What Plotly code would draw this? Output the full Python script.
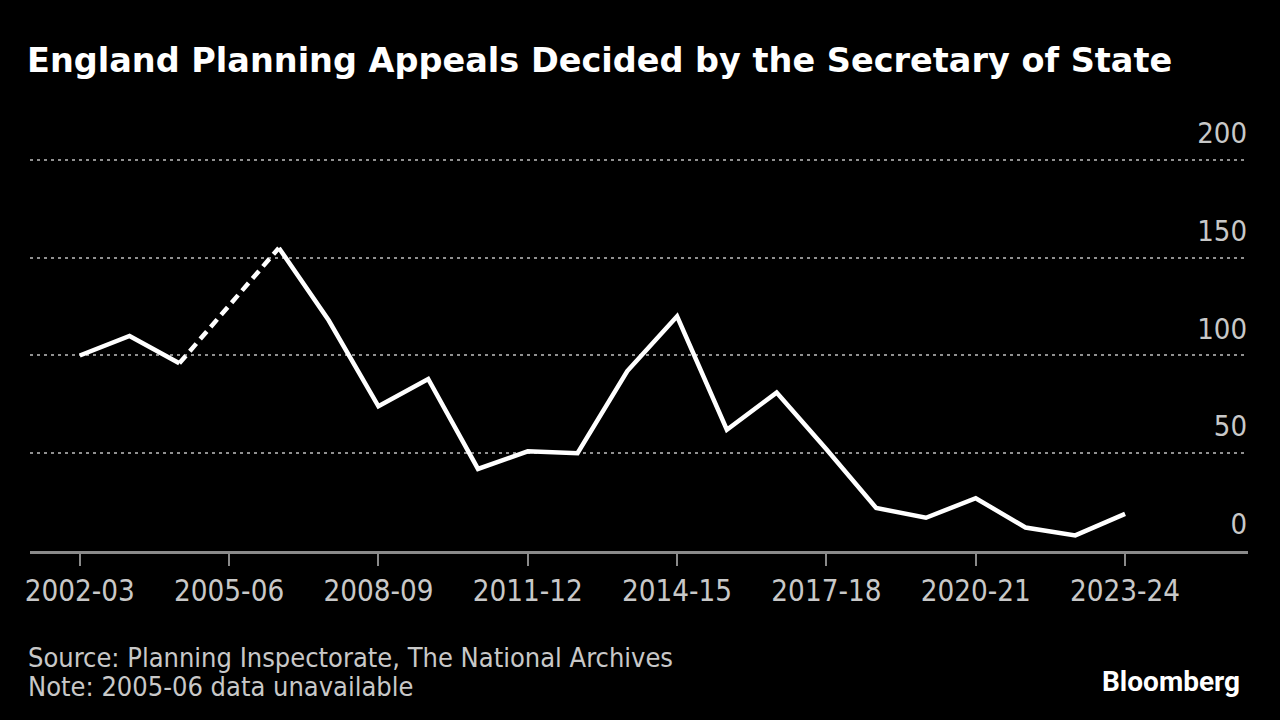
import plotly.graph_objects as go

years = ["2002-03", "2003-04", "2004-05", "2005-06", "2006-07", "2007-08", "2008-09",
         "2009-10", "2010-11", "2011-12", "2012-13", "2013-14", "2014-15", "2015-16",
         "2016-17", "2017-18", "2018-19", "2019-20", "2020-21", "2021-22", "2022-23",
         "2023-24"]
appeals = [100, 110, 96, None, 155, 118, 74, 88, 42, 51, 50, 92, 120, 62, 81, 52,
           22, 17, 27, 12, 8, 19]

title = "England Planning Appeals Decided by the Secretary of State"
source = "Source: Planning Inspectorate, The National Archives"
note = "Note: 2005-06 data unavailable"
brand = "Bloomberg"

# dashed bridge across the missing year
gap = years.index("2005-06")
bridge_x = [years[gap - 1], years[gap + 1]]
bridge_y = [appeals[gap - 1], appeals[gap + 1]]

FONT = "Liberation Sans Narrow, DejaVu Sans Condensed, Roboto Condensed, Arial Narrow, sans-serif"

L, R, T, B = 30, 32, 157, 169
PW, PH = 1280 - L - R, 720 - T - B


def px_x(p):
    return (p - L) / PW


def px_y(p):
    return (720 - B - p) / PH


fig = go.Figure()
fig.add_trace(go.Scatter(x=years, y=appeals, mode="lines", connectgaps=False,
                         line=dict(color="white", width=4.5), hoverinfo="skip"))
fig.add_trace(go.Scatter(x=bridge_x, y=bridge_y, mode="lines",
                         line=dict(color="white", width=4.5, dash="10px,6px"), hoverinfo="skip"))

fig.update_layout(
    width=1280, height=720,
    paper_bgcolor="black", plot_bgcolor="black",
    showlegend=False,
    margin=dict(l=L, r=R, t=T, b=B),
    title=dict(text="<b>" + title + "</b>", x=27 / 1280, xanchor="left", xref="container",
               y=1 - 60 / 720, yanchor="middle", yref="container",
               font=dict(family="DejaVu Sans, Verdana, sans-serif", size=33.5, color="white")),
    font=dict(family=FONT, color="#c8c8c8"),
)

fig.update_xaxes(
    type="category", range=[-1.0, 23.47], tick0=0, dtick=3,
    showgrid=False, zeroline=False,
    showline=True, linecolor="#8a8a8a", linewidth=3,
    ticks="outside", ticklen=12, tickwidth=2, tickcolor="#8a8a8a",
    tickfont=dict(family=FONT, size=29.3, color="#c8c8c8"),
)
fig.update_yaxes(
    range=[0, 201.5], tickvals=[0, 50, 100, 150, 200],
    side="right", ticklabelposition="inside", ticklabeloverflow="allow",
    ticklabelshift=-27, ticklabelstandoff=-2,
    showgrid=True, gridcolor="#909090", gridwidth=2, griddash="3px,4px",
    zeroline=False, showline=False, ticks="",
    tickfont=dict(family=FONT, size=29, color="#c8c8c8"),
)

fig.add_annotation(text=source, x=px_x(26), xref="paper", xanchor="left",
                   y=px_y(657), yref="paper", yanchor="middle",
                   showarrow=False, font=dict(family=FONT, size=27, color="#c8c8c8"))
fig.add_annotation(text=note, x=px_x(26), xref="paper", xanchor="left",
                   y=px_y(686), yref="paper", yanchor="middle",
                   showarrow=False, font=dict(family=FONT, size=27, color="#c8c8c8"))
fig.add_annotation(text="<b>" + brand + "</b>", x=px_x(1242), xref="paper", xanchor="right",
                   y=px_y(681), yref="paper", yanchor="middle",
                   showarrow=False, font=dict(family="Roboto, Lato, sans-serif", size=28, color="white"))

fig.write_html("out.html", config={"displayModeBar": False},
               post_script="document.body.style.margin='0';")
